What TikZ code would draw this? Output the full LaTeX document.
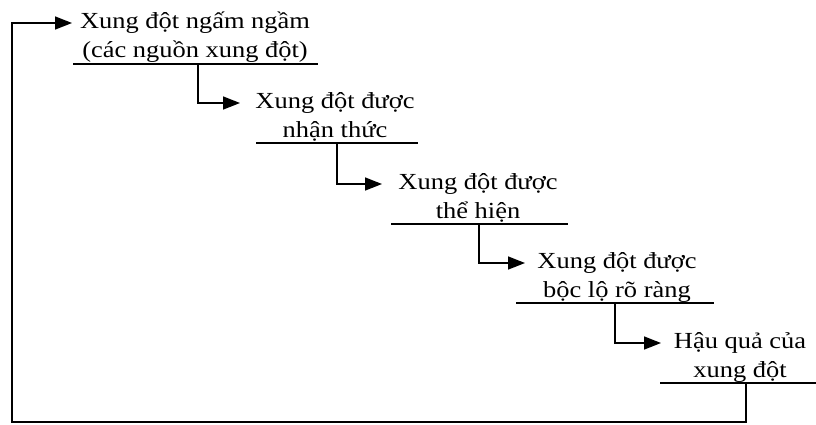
\documentclass[tikz,border=0pt]{standalone}
\usepackage{fontspec}
\setmainfont{Liberation Serif}[FakeStretch=1.15]
\usetikzlibrary{arrows.meta}
\begin{document}
\begin{tikzpicture}[x=1pt,y=-1pt,
  stage/.style={align=center,inner sep=0pt,anchor=base,
    font=\fontsize{23}{29}\selectfont},
  rule/.style={line width=1.6pt},
  flow/.style={line width=1.6pt,-{Triangle[length=17pt,width=13pt]}}]
\useasboundingbox (0,0) rectangle (816,424);

% stage texts (anchored at the baseline of the second line)
\node[stage] (s1) at (195,57)  {Xung đột ngấm ngầm\\(các nguồn xung đột)};
\node[stage] (s2) at (335,137) {Xung đột được\\nhận thức};
\node[stage] (s3) at (478,218) {Xung đột được\\thể hiện};
\node[stage] (s4) at (617,297) {Xung đột được\\bộc lộ rõ ràng};
\node[stage] (s5) at (740,377) {Hậu quả của\\xung đột};

% underlines below each stage
\coordinate (u1a) at (73,64);   \coordinate (u1b) at (318,64);
\coordinate (u2a) at (256,143); \coordinate (u2b) at (418,143);
\coordinate (u3a) at (391,224); \coordinate (u3b) at (568,224);
\coordinate (u4a) at (516,303); \coordinate (u4b) at (714,303);
\coordinate (u5a) at (660,383); \coordinate (u5b) at (816,383);
\foreach \i in {1,...,5} \draw[rule] (u\i a) -- (u\i b);

% drop points on the underlines and arrow tips
\coordinate (d1) at (198,64);  \coordinate (t2) at (240,103);
\coordinate (d2) at (337,143); \coordinate (t3) at (382,184);
\coordinate (d3) at (479,224); \coordinate (t4) at (525,263);
\coordinate (d4) at (615,303); \coordinate (t5) at (661,343);
\coordinate (d5) at (746,383); \coordinate (t1) at (72,23);
\coordinate (bl) at (12,422);

\draw[flow] (d1) |- (t2);
\draw[flow] (d2) |- (t3);
\draw[flow] (d3) |- (t4);
\draw[flow] (d4) |- (t5);

% feedback loop back to the first stage
\draw[flow] (d5) |- (bl) |- (t1);
\end{tikzpicture}
\end{document}
